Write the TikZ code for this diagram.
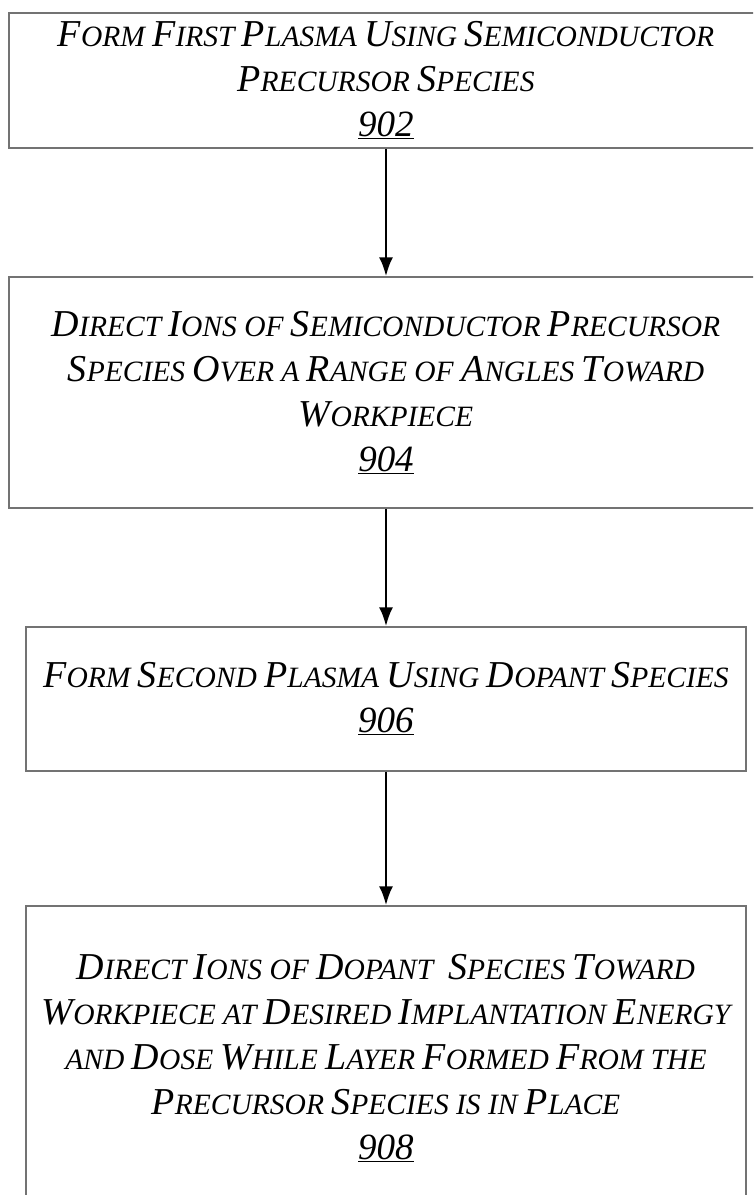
\documentclass[tikz,border=0pt]{standalone}
\usepackage{fontspec}
\setmainfont{Liberation Serif}
\usetikzlibrary{arrows.meta}
% initial capital of a word in fake small caps
\newcommand\Ini[1]{{\fontsize{38}{45}\selectfont #1}}
% step reference number
\newcommand\StepNo[1]{{\fontsize{37}{45}\selectfont\underline{#1}}}
\begin{document}
\begin{tikzpicture}[x=1pt,y=-1pt,
  stepbox/.style={draw=black!55, line width=1.2pt, rectangle, inner sep=0pt,
    align=center, font=\fontsize{29.5}{45}\selectfont\itshape},
  flow/.style={draw=black, line width=2.8pt, -{Latex[length=19pt,width=14pt]}}]
\useasboundingbox (0,0) rectangle (753,1195);
\clip (0,0) rectangle (753,1195);

\node[stepbox, minimum width=754pt, minimum height=135pt] (s902) at (386,80.5)
  {\Ini{F}ORM \Ini{F}IRST \Ini{P}LASMA \Ini{U}SING \Ini{S}EMICONDUCTOR\\
   \Ini{P}RECURSOR \Ini{S}PECIES\\
   \StepNo{902}};

\node[stepbox, minimum width=754pt, minimum height=231pt] (s904) at (386,392.5)
  {\Ini{D}IRECT \Ini{I}ONS OF \Ini{S}EMICONDUCTOR \Ini{P}RECURSOR\\
   \Ini{S}PECIES \Ini{O}VER A \Ini{R}ANGE OF \Ini{A}NGLES \Ini{T}OWARD\\
   \Ini{W}ORKPIECE\\
   \StepNo{904}};

\node[stepbox, minimum width=720pt, minimum height=144pt] (s906) at (386,699)
  {\Ini{F}ORM \Ini{S}ECOND \Ini{P}LASMA \Ini{U}SING \Ini{D}OPANT \Ini{S}PECIES\\
   \StepNo{906}};

\node[stepbox, minimum width=720pt, minimum height=304pt] (s908) at (386,1058)
  {\Ini{D}IRECT \Ini{I}ONS OF \Ini{D}OPANT\ \ \Ini{S}PECIES \Ini{T}OWARD\\
   \Ini{W}ORKPIECE AT \Ini{D}ESIRED \Ini{I}MPLANTATION \Ini{E}NERGY\\
   AND \Ini{D}OSE \Ini{W}HILE \Ini{L}AYER \Ini{F}ORMED \Ini{F}ROM THE\\
   \Ini{P}RECURSOR \Ini{S}PECIES IS IN \Ini{P}LACE\\
   \StepNo{908}};

\draw[flow] (s902) -- (s904);
\draw[flow] (s904) -- (s906);
\draw[flow] (s906) -- (s908);
\end{tikzpicture}
\end{document}
